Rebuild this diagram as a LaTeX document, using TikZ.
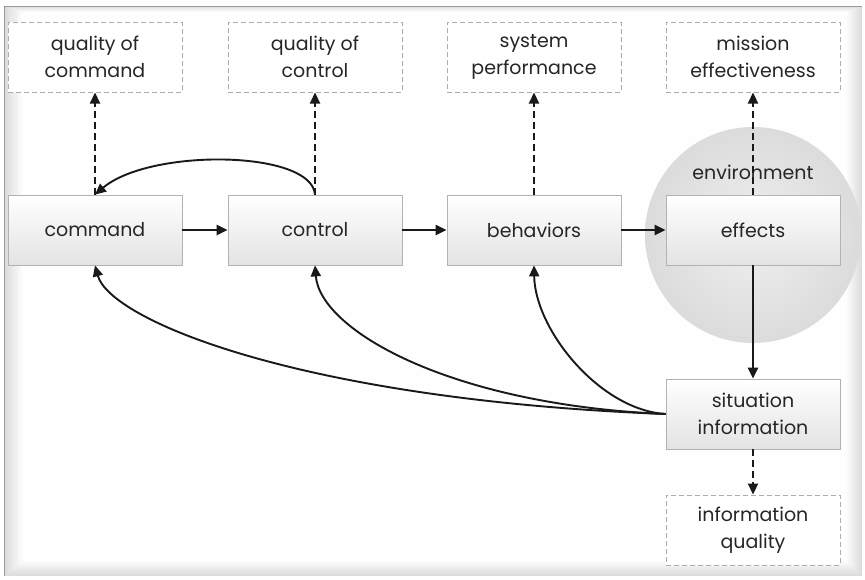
\documentclass[tikz,border=0pt]{standalone}
\usepackage{fontspec}
\setmainfont{Poppins}
\usetikzlibrary{arrows.meta}
\begin{document}
\begin{tikzpicture}[x=1pt,y=-1pt,
  lbl/.style={font=\fontsize{19}{27}\selectfont, text=black!85, align=center},
  box/.style={lbl, draw=gray!60, line width=0.8pt, top color=white, bottom color=gray!22,
     minimum width=174pt, minimum height=70pt, inner sep=0pt},
  qbox/.style={lbl, draw=gray!65, dash pattern=on 5pt off 3pt, line width=1pt, fill=white,
     minimum width=174pt, minimum height=70pt, inner sep=0pt},
  arr/.style={line width=2.2pt, black!90, -{Triangle[length=11pt,width=10pt]}},
  darr/.style={arr, dash pattern=on 7pt off 4pt},
  carr/.style={line width=1.9pt, black!90, -{Triangle[length=11pt,width=10pt]}}]
\useasboundingbox (0,0) rectangle (865,579);
% frame with inner shadow
\fill[white] (0,0) rectangle (865,579);
\foreach \i in {0,...,10}{
  \pgfmathsetmacro\g{14-1.35*\i}
  \fill[black!\g!white] (4+1.8*\i,6+0.6*\i) rectangle (862-1.5*\i,576-1.5*\i);
}
\draw[gray!80, line width=1pt] (4,576) -- (4,6) -- (862,6);
% environment circle
\shade[inner color=gray!12, outer color=gray!28] (753,235) circle (108);
\node[lbl] (env) at (753,172) {environment};
% boxes
\node[box] (command) at (95,230) {command};
\node[box] (control) at (315,230) {control};
\node[box] (behav) at (534,230) {behaviors};
\node[box] (effects) at (753,230) {effects};
\node[box] (sit) at (753,414) {situation\\information};
\node[qbox] (qcom) at (95,57) {quality of\\command};
\node[qbox] (qcon) at (315,57) {quality of\\control};
\node[qbox] (perf) at (534,57) {system\\performance};
\node[qbox] (miss) at (753,57) {mission\\effectiveness};
\node[qbox] (infq) at (753,530) {information\\quality};
% main arrows
\draw[arr] (command) -- (control);
\draw[arr] (control) -- (behav);
\draw[arr] (behav) -- (effects);
\draw[arr] (effects) -- (sit);
% dashed arrows
\draw[darr] (command.north) -- (qcom.south);
\draw[darr] (control.north) -- (qcon.south);
\draw[darr] (behav.north) -- (perf.south);
\draw[darr] (effects.north) -- (miss.south);
\draw[darr] (sit.south) -- (infq.north);
% feedback curves
\draw[carr] (control.north) .. controls (312,150) and (150,148) .. (command.north);
\draw[carr] (sit.west) .. controls (300,400) and (110,320) .. (command.south);
\draw[carr] (sit.west) .. controls (450,405) and (320,330) .. (control.south);
\draw[carr] (sit.west) .. controls (600,410) and (535,330) .. (behav.south);
\end{tikzpicture}
\end{document}
